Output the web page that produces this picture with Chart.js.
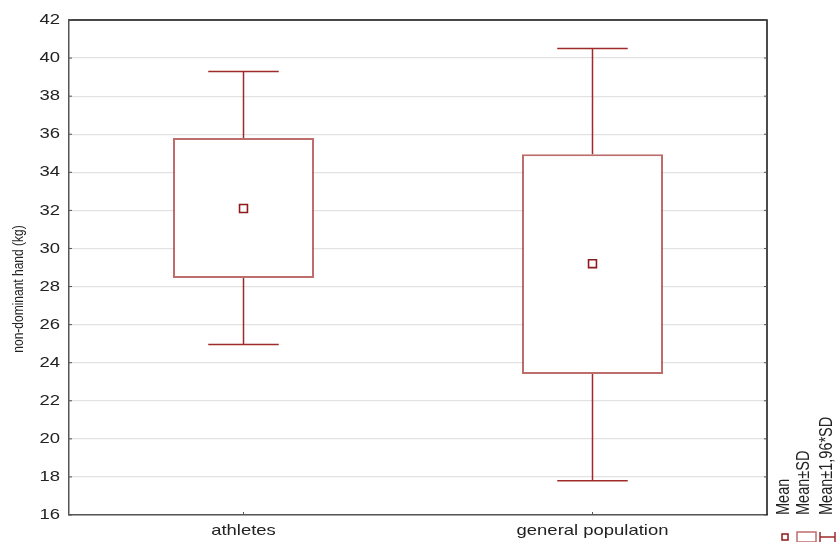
<!DOCTYPE html>
<html>
<head>
<meta charset="utf-8">
<script src="https://cdn.jsdelivr.net/npm/chart.js@4/dist/chart.umd.min.js"></script>
<style>
  html, body { margin: 0; padding: 0; background: #fff; }
  #wrap { width: 836px; height: 542px; position: relative; }
</style>
</head>
<body>
<div id="wrap"><canvas id="c"></canvas></div>
<script>
// Grip strength of the non-dominant hand (kg): mean, mean ± SD, mean ± 1.96·SD
const groups = ['athletes', 'general population'];
const means  = [32.1, 29.2];
const sdLow  = [28.45, 23.4];
const sdHigh = [35.8, 34.95];
const ciLow  = [24.95, 17.8];
const ciHigh = [39.3, 40.5];
const yTicks = [16, 18, 20, 22, 24, 26, 28, 30, 32, 34, 36, 38, 40, 42];
const legendLabels = ['Mean', 'Mean\u00B1SD', 'Mean\u00B11,96*SD'];
const yTitle = 'non-dominant hand (kg)';

const BOX_COLOR = 'rgba(168, 60, 60, 0.75)';
const WHISKER_COLOR = '#a02a2a';
const MEAN_COLOR = '#8e1b1b';
const TEXT_COLOR = '#222';
const FONT = 'Arial, "Liberation Sans", sans-serif';
const LABEL_STRETCH = 1.23;   // horizontal widening of all text

// whiskers (mean ± 1.96·SD) drawn behind the boxes
const whiskerPlugin = {
  id: 'whiskers',
  beforeDatasetsDraw(chart) {
    const { ctx, scales: { x, y } } = chart;
    const meta = chart.getDatasetMeta(0);
    ctx.save();
    ctx.strokeStyle = WHISKER_COLOR;
    ctx.lineWidth = 1.5;
    groups.forEach((g, i) => {
      const bar = meta.data[i];
      const cx = x.getPixelForValue(i);
      const half = bar.width / 4;
      const yHi = y.getPixelForValue(ciHigh[i]);
      const yLo = y.getPixelForValue(ciLow[i]);
      const yBoxHi = y.getPixelForValue(sdHigh[i]);
      const yBoxLo = y.getPixelForValue(sdLow[i]);
      ctx.beginPath();
      ctx.moveTo(cx, yBoxHi); ctx.lineTo(cx, yHi);
      ctx.moveTo(cx - half, yHi); ctx.lineTo(cx + half, yHi);
      ctx.moveTo(cx, yBoxLo); ctx.lineTo(cx, yLo);
      ctx.moveTo(cx - half, yLo); ctx.lineTo(cx + half, yLo);
      ctx.stroke();
    });
    ctx.restore();
  }
};

// widened horizontal labels
function stretchedText(ctx, text, x, y, align) {
  const w = ctx.measureText(text).width * LABEL_STRETCH;
  let left = x;
  if (align === 'right') left = x - w;
  else if (align === 'center') left = x - w / 2;
  ctx.save();
  ctx.translate(left, y);
  ctx.scale(LABEL_STRETCH, 1);
  ctx.textAlign = 'left';
  ctx.fillText(text, 0, 0);
  ctx.restore();
}

// vertical text reading bottom to top, widened across its lines
function verticalText(ctx, text, x, y, align) {
  ctx.save();
  ctx.translate(x, y);
  ctx.rotate(-Math.PI / 2);
  ctx.scale(1, LABEL_STRETCH);
  ctx.textAlign = align;
  ctx.fillText(text, 0, 0);
  ctx.restore();
}

// plot frame, small tick marks, axis labels, axis title and the vertical legend
const decorPlugin = {
  id: 'decor',
  afterDraw(chart) {
    const { ctx, chartArea: a, scales: { x, y } } = chart;
    ctx.save();
    // frame on top and right
    ctx.strokeStyle = '#111';
    ctx.lineWidth = 1.5;
    ctx.beginPath();
    ctx.moveTo(a.left, a.top); ctx.lineTo(a.right, a.top); ctx.lineTo(a.right, a.bottom);
    ctx.stroke();
    // small inner tick marks
    ctx.strokeStyle = '#555';
    ctx.lineWidth = 1;
    ctx.beginPath();
    yTicks.forEach(v => {
      const py = y.getPixelForValue(v);
      ctx.moveTo(a.left, py); ctx.lineTo(a.left + 3, py);
      ctx.moveTo(a.right, py); ctx.lineTo(a.right - 3, py);
    });
    groups.forEach((g, i) => {
      const px = x.getPixelForValue(i);
      ctx.moveTo(px, a.bottom); ctx.lineTo(px, a.bottom - 3);
    });
    ctx.stroke();

    // tick labels
    ctx.fillStyle = TEXT_COLOR;
    ctx.font = '15px ' + FONT;
    ctx.textBaseline = 'middle';
    yTicks.forEach(v => {
      stretchedText(ctx, String(v), a.left - 9, y.getPixelForValue(v), 'right');
    });
    groups.forEach((g, i) => {
      stretchedText(ctx, g, x.getPixelForValue(i), a.bottom + 16, 'center');
    });

    // y axis title
    ctx.font = '12px ' + FONT;
    verticalText(ctx, yTitle, 19, 289, 'center');

    // legend: rotated labels with their symbols below
    const lx = [784, 804, 827];
    ctx.font = '14.5px ' + FONT;
    legendLabels.forEach((t, i) => verticalText(ctx, t, lx[i], 515, 'left'));

    const sy = 537;
    // mean symbol
    ctx.strokeStyle = MEAN_COLOR;
    ctx.lineWidth = 1.5;
    ctx.fillStyle = '#fff';
    ctx.fillRect(782, sy - 3, 6, 6);
    ctx.strokeRect(782, sy - 3, 6, 6);
    // box symbol
    ctx.strokeStyle = BOX_COLOR;
    ctx.lineWidth = 1.5;
    ctx.strokeRect(797, sy - 5, 19, 10);
    // whisker symbol
    ctx.strokeStyle = WHISKER_COLOR;
    ctx.beginPath();
    ctx.moveTo(820, sy); ctx.lineTo(835, sy);
    ctx.moveTo(820, sy - 5); ctx.lineTo(820, sy + 5);
    ctx.moveTo(835, sy - 5); ctx.lineTo(835, sy + 5);
    ctx.stroke();
    ctx.restore();
  }
};

new Chart(document.getElementById('c'), {
  type: 'bar',
  data: {
    labels: groups,
    datasets: [
      {
        label: 'Mean\u00B1SD',
        data: groups.map((g, i) => [sdLow[i], sdHigh[i]]),
        backgroundColor: '#fff',
        borderColor: BOX_COLOR,
        borderWidth: 2,
        borderSkipped: false,
        categoryPercentage: 1,
        barPercentage: 0.404,
        order: 2
      },
      {
        type: 'line',
        label: 'Mean',
        data: means,
        showLine: false,
        pointStyle: 'rect',
        pointRadius: 5.6,
        pointHoverRadius: 5.6,
        pointBorderWidth: 1.6,
        pointBorderColor: MEAN_COLOR,
        pointBackgroundColor: '#fff',
        order: 1
      }
    ]
  },
  options: {
    responsive: true,
    maintainAspectRatio: false,
    animation: false,
    layout: { padding: { top: 20, right: 69, left: 0, bottom: 0 } },
    plugins: {
      legend: { display: false },
      tooltip: { enabled: false }
    },
    scales: {
      x: {
        grid: { display: false, drawTicks: false },
        border: { display: true, color: '#555', width: 1.5 },
        ticks: { display: false },
        afterFit(s) { s.height = 27; }
      },
      y: {
        min: 16,
        max: 42,
        afterBuildTicks(s) { s.ticks = yTicks.map(v => ({ value: v })); },
        grid: { color: '#e2e2e2', lineWidth: 1.2, drawTicks: false },
        border: { display: true, color: '#555', width: 1.5 },
        ticks: { display: false },
        afterFit(s) { s.width = 69; }
      }
    }
  },
  plugins: [whiskerPlugin, decorPlugin]
});
</script>
</body>
</html>
